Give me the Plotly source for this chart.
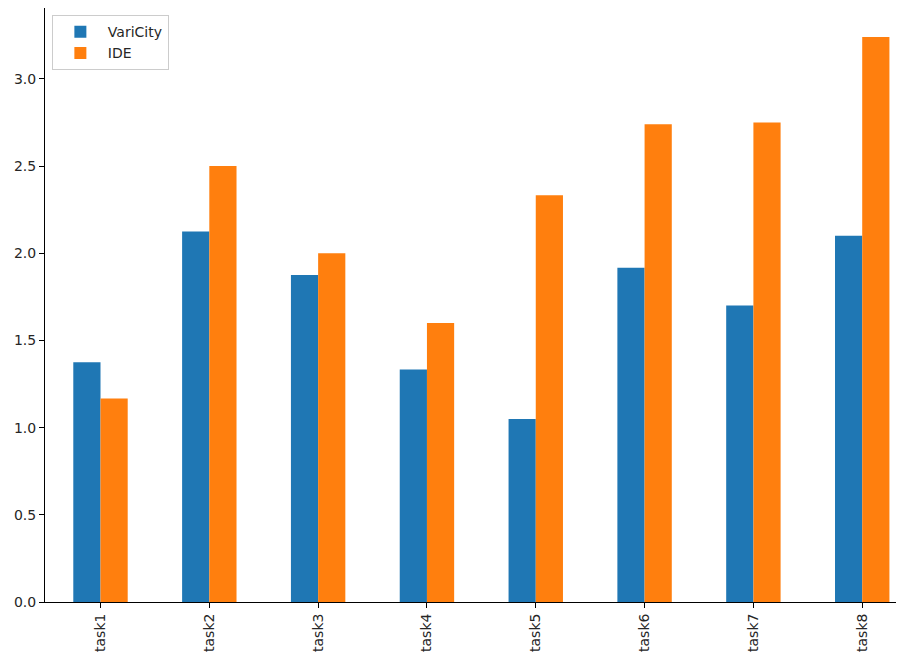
import plotly.graph_objects as go

tasks = ["task1", "task2", "task3", "task4", "task5", "task6", "task7", "task8"]
varicity = [1.375, 2.125, 1.875, 1.333, 1.05, 1.917, 1.7, 2.1]
ide = [1.1667, 2.5, 2.0, 1.6, 2.333, 2.74, 2.75, 3.24]

font = dict(family="DejaVu Sans", size=14, color="#262626")

fig = go.Figure()
fig.add_trace(go.Bar(x=tasks, y=varicity, name="VariCity", marker=dict(color="#1f77b4", line_width=0)))
fig.add_trace(go.Bar(x=tasks, y=ide, name="IDE", marker=dict(color="#ff7f0e", line_width=0)))

# page body has an 8px margin, so the figure is shrunk to fit the window
fig.update_layout(
    width=896,
    height=648,
    margin=dict(l=37, r=0, t=0, b=54),
    barmode="group",
    bargap=0.5,
    bargroupgap=0,
    plot_bgcolor="white",
    paper_bgcolor="white",
    font=font,
    legend=dict(
        x=0.008, y=0.988, xanchor="left", yanchor="top",
        bgcolor="white", bordercolor="#cccccc", borderwidth=1,
        itemwidth=45,
        font=dict(family="DejaVu Sans", size=14, color="#262626"),
    ),
    xaxis=dict(
        range=[-0.51, 7.384],
        showline=True, linecolor="black", linewidth=1, mirror=True,
        ticks="outside", ticklen=5, tickcolor="black",
        tickangle=-90, showgrid=False,
    ),
    yaxis=dict(
        range=[0, 3.406],
        tickvals=[0, 0.5, 1.0, 1.5, 2.0, 2.5, 3.0],
        tickformat=".1f",
        showline=True, linecolor="black", linewidth=1,
        ticks="outside", ticklen=5, tickcolor="black",
        showgrid=False, zeroline=False,
    ),
)

fig.write_html("out.html")
